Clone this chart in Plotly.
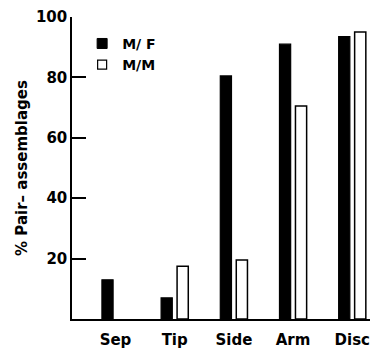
import plotly.graph_objects as go

categories = ["Sep", "Tip", "Side", "Arm", "Disc"]
mf_values = [13, 7, 80.5, 91, 93.5]
mm_values = [None, 17.5, 19.5, 70.5, 95]
y_ticks = [20, 40, 60, 80, 100]
series_names = ["M/ F", "M/M"]

FONT = "DejaVu Sans"

fig = go.Figure()
fig.add_trace(go.Bar(x=categories, y=mf_values, name=series_names[0],
                     marker=dict(color="black", line=dict(color="black", width=1.2)),
                     showlegend=False))
fig.add_trace(go.Bar(x=categories, y=mm_values, name=series_names[1],
                     marker=dict(color="white", line=dict(color="black", width=1.5)),
                     showlegend=False))
# legend entries
fig.add_trace(go.Scatter(x=[None], y=[None], mode="markers", name=series_names[0],
                         marker=dict(symbol="square", size=10, color="black",
                                     line=dict(color="black", width=1))))
fig.add_trace(go.Scatter(x=[None], y=[None], mode="markers", name=series_names[1],
                         marker=dict(symbol="square", size=9, color="white",
                                     line=dict(color="black", width=1.2))))

fig.update_layout(
    width=370, height=349,
    margin=dict(l=72, r=0, t=17, b=28),
    paper_bgcolor="white", plot_bgcolor="white",
    barmode="group", bargap=0.46, bargroupgap=0.3,
    font=dict(family=FONT, color="black"),
    legend=dict(x=0.034, y=0.964, xanchor="left", yanchor="top",
                font=dict(family=FONT, size=14, color="black", weight="bold"),
                bgcolor="rgba(0,0,0,0)", tracegroupgap=0, itemwidth=30),
    showlegend=True,
)
fig.update_xaxes(
    type="category", range=[-0.735, 4.30],
    showline=True, linecolor="black", linewidth=1.5,
    ticks="", showgrid=False, zeroline=False,
    tickfont=dict(family=FONT, size=15, color="black", weight="bold"),
    ticklabelstandoff=6,
)
fig.update_yaxes(
    range=[0, 100], tickvals=y_ticks,
    showline=True, linecolor="black", linewidth=1.5,
    ticks="inside", ticklen=14, tickwidth=1.5, tickcolor="black",
    showgrid=False, zeroline=False,
    tickfont=dict(family=FONT, size=15, color="black", weight="bold"),
    title=dict(text="% Pair\u2013 assemblages", standoff=5,
               font=dict(family=FONT, size=15, color="black", weight="bold")),
)
fig.write_html("out.html", config={"displayModeBar": False},
               post_script="document.body.style.margin='0';document.body.style.padding='0';document.body.style.overflow='hidden';")
